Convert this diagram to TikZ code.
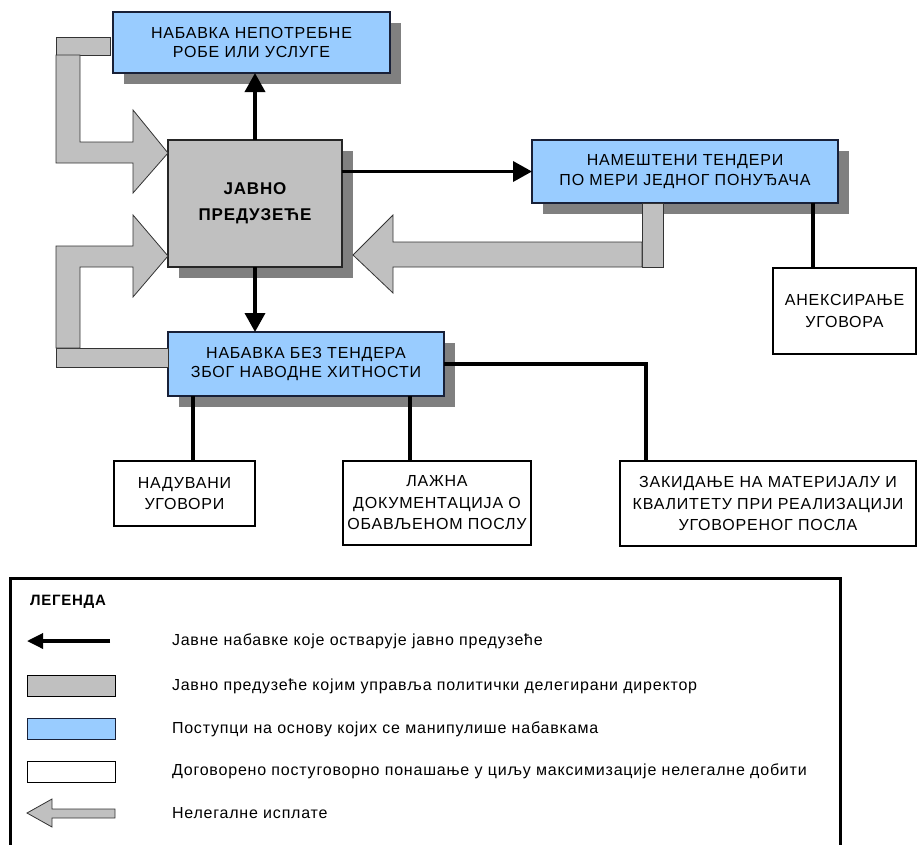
\documentclass[tikz,border=0pt]{standalone}
\usepackage{fontspec}
\setmainfont{Liberation Sans}[LetterSpace=5]
\usetikzlibrary{arrows.meta,shadows}

\definecolor{boxblue}{RGB}{153,204,255}
\definecolor{boxgray}{RGB}{192,192,192}
\definecolor{shadowgray}{RGB}{128,128,128}
\definecolor{edgeblue}{RGB}{24,32,56}

\begin{document}
\begin{tikzpicture}[x=1pt,y=-1pt,
  every node/.style={inner sep=0pt,outer sep=0pt},
  txt/.style={font=\fontsize{16}{19.5}\selectfont,align=center},
  boxshadow/.style={general shadow={fill=shadowgray,shadow xshift=11pt,shadow yshift=-11pt}},
  bluebox/.style={txt,draw=edgeblue,line width=1.6pt,fill=boxblue,boxshadow},
  graybox/.style={draw=black!85,line width=1.6pt,fill=boxgray,boxshadow,
    font=\bfseries\fontsize{17}{26}\selectfont,align=center},
  whitebox/.style={draw=black,line width=1.2pt,fill=white,
    font=\fontsize{16}{21.5}\selectfont,align=center},
  arr/.style={line width=3.6pt,-{Triangle[length=19pt,width=20pt]}},
  conn/.style={line width=3.6pt},
  payment/.style={draw=black!80,line width=0.8pt,fill=boxgray,line join=miter},
  legtext/.style={font=\fontsize{16}{18}\selectfont,anchor=west},
  swatch/.style={line width=1pt,minimum width=88pt,minimum height=21pt},
]
\useasboundingbox (0,0) rectangle (918,844);

% main boxes
\node[bluebox,minimum width=277pt,minimum height=61pt] (need) at (251.5,42.5)
  {НАБАВКА НЕПОТРЕБНЕ\\РОБЕ ИЛИ УСЛУГЕ};
\node[graybox,minimum width=174pt,minimum height=127pt] (firm) at (255,203.5)
  {ЈАВНО\\ПРЕДУЗЕЋЕ};
\node[bluebox,minimum width=306pt,minimum height=63pt] (rigged) at (685,171.5)
  {НАМЕШТЕНИ ТЕНДЕРИ\\ПО МЕРИ ЈЕДНОГ ПОНУЂАЧА};
\node[bluebox,minimum width=276pt,minimum height=64pt] (urgent) at (306,364)
  {НАБАВКА БЕЗ ТЕНДЕРА\\ЗБОГ НАВОДНЕ ХИТНОСТИ};

% outcome boxes
\node[whitebox,minimum width=143pt,minimum height=86pt] (annex) at (844.5,311)
  {АНЕКСИРАЊЕ\\УГОВОРА};
\node[whitebox,minimum width=141pt,minimum height=65pt] (inflated) at (184.5,493.5)
  {НАДУВАНИ\\УГОВОРИ};
\node[whitebox,minimum width=188pt,minimum height=84pt] (fakedoc) at (437,503)
  {ЛАЖНА\\ДОКУМЕНТАЦИЈА О\\ОБАВЉЕНОМ ПОСЛУ};
\node[whitebox,minimum width=296pt,minimum height=85pt] (cutback) at (768,503.5)
  {ЗАКИДАЊЕ НА МАТЕРИЈАЛУ И\\КВАЛИТЕТУ ПРИ РЕАЛИЗАЦИЈИ\\УГОВОРЕНОГ ПОСЛА};

% illegal payments (hollow gray arrows)
\coordinate (tabtop) at (642,0);
\draw[payment] (56,37) rectangle (110,55);
\draw[payment] (56,55) -- (80,55) -- (80,142) -- (133,142) -- (133,110)
  -- (firm.west |- 0,153) -- (133,193) -- (133,163) -- (56,163) -- cycle;
\draw[payment] (56,348) rectangle (urgent.west |- 0,367);
\draw[payment] (56,348) -- (56,246) -- (133,246) -- (133,215)
  -- (firm.west |- 0,256) -- (133,297) -- (133,267) -- (80,267) -- (80,348) -- cycle;
\draw[payment] (tabtop |- rigged.south) rectangle (663,267);
\draw[payment] (642,242) -- (393,242) -- (393,215) -- (353,255)
  -- (393,293) -- (393,267) -- (642,267) -- cycle;

% procurement arrows
\draw[arr] (firm.north) -- (firm.north |- need.south);
\draw[arr] (firm.east |- rigged.west) -- (rigged.west);
\draw[arr] (firm.south) -- (firm.south |- urgent.north);

% links to outcomes
\draw[conn] ([xshift=40pt]annex.north west) -- ([xshift=40pt]annex.north west |- rigged.south);
\draw[conn] ([xshift=8.5pt]inflated.north) -- ([xshift=8.5pt]inflated.north |- urgent.south);
\draw[conn] ([xshift=-27pt]fakedoc.north) -- ([xshift=-27pt]fakedoc.north |- urgent.south);
\draw[conn] (urgent.east) -| ([xshift=-122pt]cutback.north);

% legend
\draw[line width=3pt] (10,846) -- (10,578) -- (840,578) -- (840,846);
\node[font=\bfseries\fontsize{15}{18}\selectfont,anchor=west] (legtitle) at (30,602) {ЛЕГЕНДА};

\coordinate (la0) at (110,641);
\coordinate (la1) at (27,641);
\draw[line width=3.4pt,-{Triangle[length=16pt,width=15pt]}] (la0) -- (la1);
\node[legtext] (lt1) at (172,641) {Јавне набавке које остварује јавно предузеће};

\node[swatch,draw=black,fill=boxgray] (ls2) at (71,686) {};
\node[legtext] (lt2) at (172,686) {Јавно предузеће којим управља политички делегирани директор};

\node[swatch,draw=edgeblue,fill=boxblue] (ls3) at (71,728.5) {};
\node[legtext] (lt3) at (172,729) {Поступци на основу којих се манипулише набавкама};

\node[swatch,draw=black,fill=white] (ls4) at (71,771.5) {};
\node[legtext] (lt4) at (172,771) {Договорено постуговорно понашање у циљу максимизације нелегалне добити};

\draw[payment] (27,813) -- (52,799) -- (52,809) -- (115,809) -- (115,818)
  -- (52,818) -- (52,827) -- cycle;
\node[legtext] (lt5) at (172,813) {Нелегалне исплате};
\end{tikzpicture}
\end{document}
